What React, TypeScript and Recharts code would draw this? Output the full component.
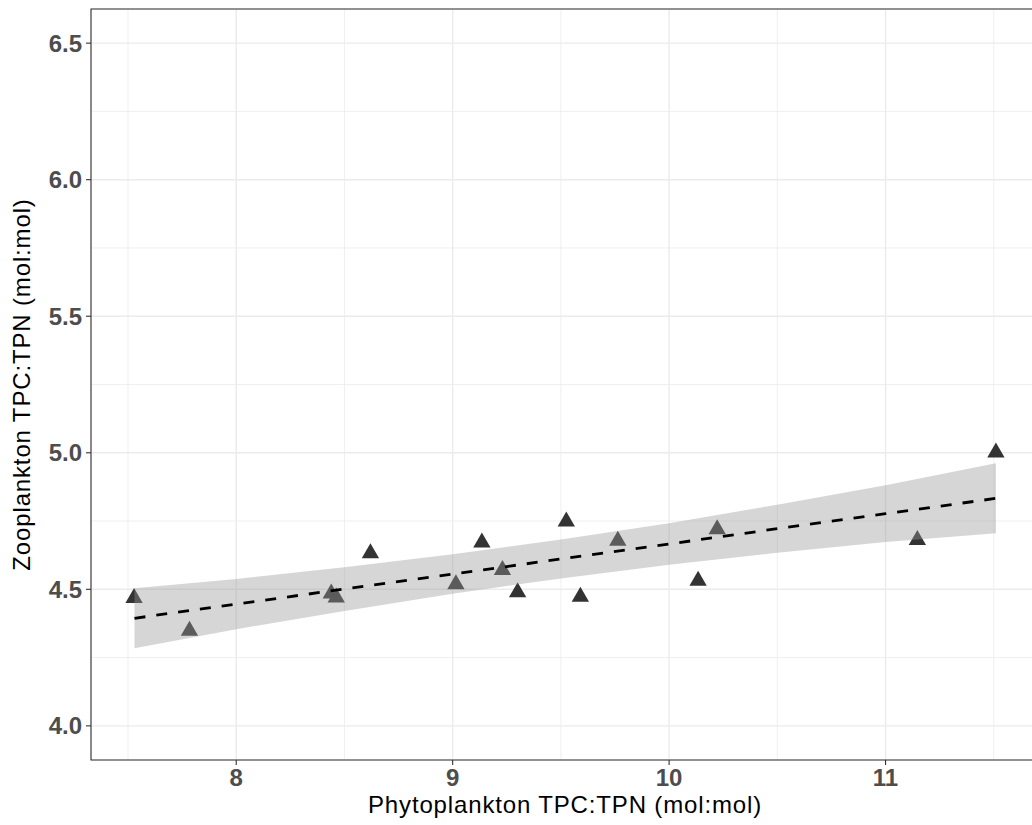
import {
  ComposedChart,
  Scatter,
  Area,
  Line,
  XAxis,
  YAxis,
  CartesianGrid,
  ReferenceArea,
  Label,
} from "recharts";

// observed stoichiometry (one triangle per sample)
const phytoCN = [7.528, 7.784, 8.439, 8.462, 8.62, 9.015, 9.135, 9.23, 9.3, 9.525, 9.59, 9.763, 10.134, 10.222, 11.147, 11.51];
const zooCN = [4.468, 4.348, 4.485, 4.47, 4.632, 4.519, 4.671, 4.571, 4.489, 4.748, 4.473, 4.678, 4.531, 4.72, 4.681, 5.001];

// fitted line and its confidence band
const fitX = [7.53, 8, 8.5, 9, 9.5, 10, 10.5, 11, 11.51];
const fitY = [4.394, 4.446, 4.501, 4.556, 4.611, 4.666, 4.722, 4.777, 4.833];
const ciLow = [4.284, 4.354, 4.421, 4.484, 4.54, 4.59, 4.634, 4.673, 4.705];
const ciHigh = [4.504, 4.538, 4.581, 4.628, 4.682, 4.742, 4.81, 4.881, 4.962];

const xTicks = [8, 9, 10, 11];
const yTicks = [4.0, 4.5, 5.0, 5.5, 6.0, 6.5];
const xMinor = [7.5, 8.5, 9.5, 10.5, 11.5];
const yMinor = [4.25, 4.75, 5.25, 5.75, 6.25];

const xDomain = [7.329, 11.709];
const yDomain = [3.875, 6.625];

const points = phytoCN.map((x, i) => ({ x, y: zooCN[i] }));
const fitRows = fitX.map((x, i) => ({ x, fit: fitY[i], band: [ciLow[i], ciHigh[i]] }));

const font = "'Liberation Sans', Arial, Helvetica, sans-serif";

const Triangle = (props: any) => {
  const { cx, cy } = props;
  if (cx == null || cy == null) return null;
  const r = 10;
  const hw = 8.66;
  return (
    <path
      d={`M${cx},${cy - r}L${cx + hw},${cy + r / 2}L${cx - hw},${cy + r / 2}Z`}
      fill="#333333"
    />
  );
};

const XTitle = (props: any) => {
  const vb = props.viewBox || { x: 91, y: 760, width: 948, height: 65 };
  return (
    <text
      x={vb.x + vb.width / 2}
      y={vb.y + 53}
      textAnchor="middle"
      fontFamily={font}
      fontSize={24}
      letterSpacing={0.85}
      fill="#000"
    >
      Phytoplankton TPC:TPN (mol:mol)
    </text>
  );
};

const YTitle = (props: any) => {
  const vb = props.viewBox || { x: 0, y: 9, width: 91, height: 751 };
  const cx = 30;
  const cy = vb.y + vb.height / 2;
  return (
    <text
      x={cx}
      y={cy}
      transform={`rotate(-90, ${cx}, ${cy})`}
      textAnchor="middle"
      fontFamily={font}
      fontSize={24}
      letterSpacing={0.85}
      fill="#000"
    >
      Zooplankton TPC:TPN (mol:mol)
    </text>
  );
};

const tickStyle = { fill: "#4d4d4d", fontSize: 24, fontWeight: "bold", fontFamily: font };

export default function App() {
  return (
    <div
      style={{
        position: "absolute",
        left: 0,
        top: 0,
        width: 1032,
        height: 825,
        overflow: "hidden",
        background: "#fff",
      }}
    >
      <ComposedChart width={1039} height={825} data={fitRows} margin={{ top: 9, right: 0, bottom: 0, left: 0 }}>
        <CartesianGrid stroke="#ebebeb" strokeWidth={0.8} verticalValues={xMinor} horizontalValues={yMinor} />
        <CartesianGrid stroke="#ebebeb" strokeWidth={1.4} />
        <XAxis
          type="number"
          dataKey="x"
          domain={xDomain}
          ticks={xTicks}
          interval={0}
          allowDataOverflow
          height={65}
          tickSize={5}
          tickMargin={4}
          axisLine={false}
          tickLine={{ stroke: "#333", strokeWidth: 1.1 }}
          tick={tickStyle}
        >
          <Label content={XTitle} />
        </XAxis>
        <YAxis
          type="number"
          domain={yDomain}
          ticks={yTicks}
          interval={0}
          allowDataOverflow
          width={91}
          tickSize={5}
          tickMargin={4}
          axisLine={false}
          tickLine={{ stroke: "#333", strokeWidth: 1.1 }}
          tick={tickStyle}
          tickFormatter={(v: number) => v.toFixed(1)}
        >
          <Label content={YTitle} />
        </YAxis>
        <Scatter data={points} dataKey="y" shape={Triangle} isAnimationActive={false} zIndex={50} />
        <Area
          type="linear"
          dataKey="band"
          stroke="none"
          fill="#999999"
          fillOpacity={0.4}
          isAnimationActive={false}
          activeDot={false}
          zIndex={100}
        />
        <Line
          type="linear"
          dataKey="fit"
          stroke="#000"
          strokeWidth={2.8}
          strokeDasharray="11 11"
          dot={false}
          activeDot={false}
          isAnimationActive={false}
          zIndex={400}
        />
        <ReferenceArea
          x1={xDomain[0]}
          x2={xDomain[1]}
          y1={yDomain[0]}
          y2={yDomain[1]}
          fill="none"
          stroke="#333"
          strokeWidth={1.1}
          zIndex={500}
        />
      </ComposedChart>
    </div>
  );
}
